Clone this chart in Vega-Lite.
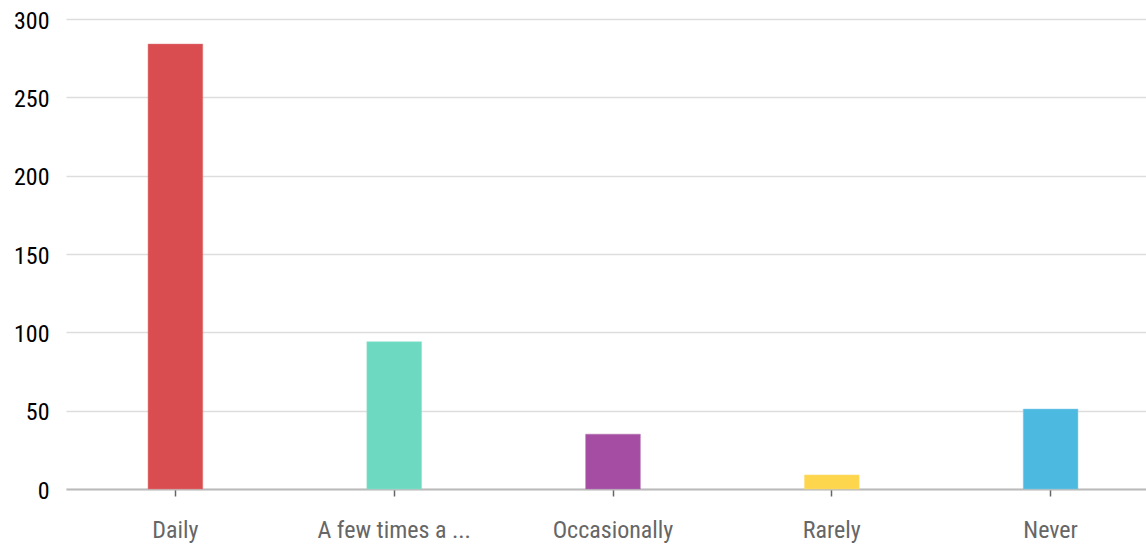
{
  "$schema": "https://vega.github.io/schema/vega-lite/v6.json",
  "autosize": "none",
  "width": 1094,
  "height": 470,
  "padding": {"left": 66, "top": 19, "right": 0, "bottom": 58},
  "background": "white",
  "config": {
    "view": {"stroke": null},
    "font": "Roboto Condensed, Liberation Sans, sans-serif"
  },
  "data": {
    "values": [
      {"answer": "Daily", "count": 284},
      {"answer": "A few times a ...", "count": 94},
      {"answer": "Occasionally", "count": 35},
      {"answer": "Rarely", "count": 9},
      {"answer": "Never", "count": 51}
    ]
  },
  "mark": {"type": "bar", "strokeWidth": 1, "strokeOpacity": 0.5},
  "encoding": {
    "x": {
      "field": "answer",
      "type": "nominal",
      "sort": null,
      "scale": {"paddingInner": 0.75, "paddingOuter": 0.375},
      "axis": {
        "title": null,
        "labelAngle": 0,
        "labelFontSize": 24,
        "labelFont": "Roboto Condensed, Liberation Sans, sans-serif",
        "labelColor": "#666666",
        "labelPadding": 22,
        "labelLimit": 300,
        "domainColor": "#bbbbbb",
        "domainWidth": 2,
        "tickColor": "#666666",
        "tickSize": 7,
        "tickWidth": 1.5,
        "grid": false
      }
    },
    "y": {
      "field": "count",
      "type": "quantitative",
      "scale": {"domain": [0, 300], "nice": false},
      "axis": {
        "title": null,
        "values": [0, 50, 100, 150, 200, 250, 300],
        "labelFontSize": 24,
        "labelFont": "Roboto Condensed, Liberation Sans, sans-serif",
        "labelColor": "#000000",
        "labelPadding": 17,
        "labelOffset": 2,
        "domain": false,
        "ticks": false,
        "grid": true,
        "gridColor": "#dddddd",
        "gridWidth": 1.5
      }
    },
    "color": {
      "field": "answer",
      "type": "nominal",
      "sort": null,
      "scale": {
        "domain": ["Daily", "A few times a ...", "Occasionally", "Rarely", "Never"],
        "range": ["#d94c4f", "#6dd9c1", "#a54ca3", "#fed64d", "#4cb9e0"]
      },
      "legend": null
    },
    "stroke": {
      "field": "answer",
      "type": "nominal",
      "sort": null,
      "scale": {
        "domain": ["Daily", "A few times a ...", "Occasionally", "Rarely", "Never"],
        "range": ["#e07a7c", "#92e3d1", "#b574b3", "#fee07a", "#7fcbe8"]
      },
      "legend": null
    }
  }
}
